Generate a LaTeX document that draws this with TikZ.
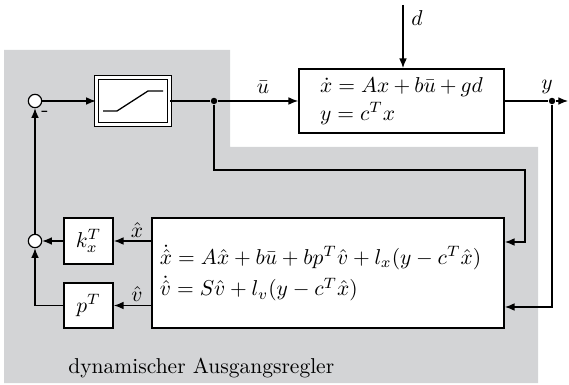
\documentclass[tikz,border=0pt]{standalone}
\usetikzlibrary{arrows.meta,calc}
\definecolor{regbg}{RGB}{211,212,214}
\begin{document}
\begin{tikzpicture}[x=0.465pt,y=-0.465pt,
  line/.style={line width=0.6pt},
  arr/.style={line, -{Latex[length=4.5pt,width=3.6pt]}},
  blockbox/.style={draw, line width=0.8pt, fill=white, inner sep=0pt},
  sumnode/.style={circle, draw, line width=0.55pt, fill=white, minimum size=6.2pt, inner sep=0pt},
  dotnode/.style={circle, fill, minimum size=3pt, inner sep=0pt},
  lbl/.style={inner sep=1pt}]
\useasboundingbox (0,0) rectangle (569,385);
\fill[regbg] (4,50) -- (230,50) -- (230,147) -- (538,147) -- (538,383) -- (4,383) -- cycle;

% nodes
\node[sumnode] (s1) at (35,101) {};
\node[sumnode] (s2) at (35,241) {};
\node[blockbox, double, double distance=1.3pt, line width=0.6pt, minimum width=34pt, minimum height=22pt] (sat) at (133,101) {};
\draw[line] ($(sat.center)+(-30,10)$) -- ++(14,0) -- ++(31,-20) -- ++(15,0);
\node[dotnode] (j1) at (214,101) {};
\node[blockbox, minimum width=95.3pt, minimum height=29.8pt, text width=75.7pt, inner xsep=9.8pt, align=left] (plant) at (401.5,101)
  {$\dot x = Ax + b\bar u + gd$\\[1pt] $y = c^T x$};
\node[dotnode] (j2) at (552,101) {};
\node[blockbox, minimum width=163.7pt, minimum height=51.2pt, text width=156.3pt, inner xsep=3.7pt, align=left] (obs) at (328,273)
  {$\dot{\hat x} = A\hat x + b\bar u + bp^T\hat v + l_x(y - c^T\hat x)$\\[2.5pt] $\dot{\hat v} = S\hat v + l_v(y - c^T\hat x)$};
\node[blockbox, minimum width=22.8pt, minimum height=21.4pt] (k) at (88.5,241) {$k_x^T$};
\node[blockbox, minimum width=22.8pt, minimum height=20.9pt] (p) at (88.5,305.5) {$p^T$};

\coordinate (dtop) at (403,5);
\coordinate (yend) at (568,101);
\coordinate (in1) at ($(obs.east)+(0,-31)$);
\coordinate (in2) at ($(obs.east)+(0,34)$);

% connectors
\draw[arr] (s1) -- (sat);
\draw[line] (sat) -- (j1);
\draw[arr] (j1) -- (plant);
\draw[arr] (dtop) -- (dtop |- plant.north);
\draw[line] (plant) -- (j2);
\draw[arr] (j2) -- (yend);
\draw[arr] (j1) |- (525,170) |- (in1);
\draw[arr] (j2) |- (in2);
\draw[arr] (obs.west |- k.east) -- (k.east);
\draw[arr] (obs.west |- p.east) -- (p.east);
\draw[arr] (k) -- (s2);
\draw[arr] (p) -| (s2);
\draw[arr] (s2) -- (s1);

% labels
\node[lbl] at (263,87) {$\bar u$};
\node[lbl] at (417,18) {$d$};
\node[lbl] at (547,87) {$y$};
\node[lbl] at (137,230) {$\hat x$};
\node[lbl] at (137,294) {$\hat v$};
\node[lbl] at (45,114) {-};
\node[anchor=base west, inner sep=0pt] at (68,373) {dynamischer Ausgangsregler};
\end{tikzpicture}
\end{document}
